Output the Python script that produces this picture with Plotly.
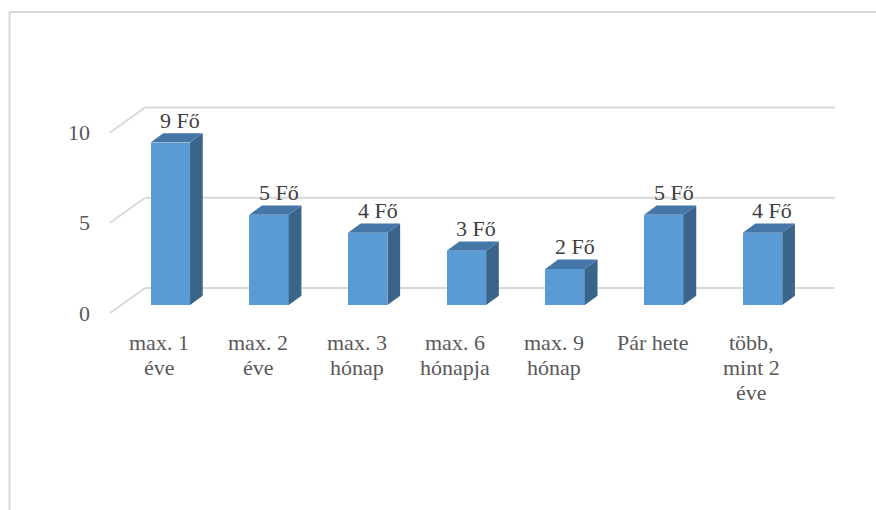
import plotly.graph_objects as go

# Data
categories = [["max. 1", "éve"], ["max. 2", "éve"], ["max. 3", "hónap"], ["max. 6", "hónapja"],
              ["max. 9", "hónap"], ["Pár hete"], ["több,", "mint 2", "éve"]]
values = [9, 5, 4, 3, 2, 5, 4]
unit = "Fő"
y_ticks = [0, 5, 10]

# Pseudo-3D geometry (x in category slots, y in value units)
BAR_W = 0.40          # front face width
DEPTH_X = 0.1287      # bar depth projected on x
DEPTH_Y = 0.515       # bar depth projected on y
WALL_FRONT_X, WALL_FRONT_Y = -0.611, -0.443
WALL_BACK_X, WALL_BACK_Y = -0.256, 0.942
WALL_RIGHT_X = 6.735
PX_PER_UNIT = 18.05   # vertical pixels per value unit

FRONT = "#5B9BD5"
SIDE = "#3A6489"
TOP = "#4476A8"
GRID = "#D9D9D9"
FONT = "Liberation Serif"

idx = list(range(len(values)))
fig = go.Figure()

# front faces
fig.add_trace(go.Bar(x=idx, y=values, width=BAR_W, marker=dict(color=FRONT, line=dict(width=0)),
                     hoverinfo="skip", showlegend=False))

# side and top faces derived from each value
for i, v in zip(idx, values):
    r, l = i + BAR_W / 2, i - BAR_W / 2
    fig.add_trace(go.Scatter(
        x=[r, r + DEPTH_X, r + DEPTH_X, r, r], y=[0, DEPTH_Y, v + DEPTH_Y, v, 0],
        fill="toself", fillcolor=SIDE, mode="lines", line=dict(width=0, color=SIDE),
        hoverinfo="skip", showlegend=False))
    fig.add_trace(go.Scatter(
        x=[l, r, r + DEPTH_X, l + DEPTH_X, l], y=[v, v, v + DEPTH_Y, v + DEPTH_Y, v],
        fill="toself", fillcolor=TOP, mode="lines", line=dict(width=0, color=TOP),
        hoverinfo="skip", showlegend=False))

shapes = []
annotations = []
# back-wall gridlines, floor/side diagonals and value axis labels
for t in y_ticks:
    shapes.append(dict(type="line", xref="x", yref="y", layer="below",
                       x0=WALL_BACK_X, x1=WALL_RIGHT_X, y0=t + WALL_BACK_Y, y1=t + WALL_BACK_Y,
                       line=dict(color=GRID, width=2)))
    shapes.append(dict(type="line", xref="x", yref="y", layer="below",
                       x0=WALL_FRONT_X, x1=WALL_BACK_X, y0=t + WALL_FRONT_Y, y1=t + WALL_BACK_Y,
                       line=dict(color=GRID, width=2)))
    annotations.append(dict(x=-0.79, y=t + WALL_FRONT_Y, xref="x", yref="y", text=str(t),
                            showarrow=False, xanchor="right", yanchor="middle",
                            font=dict(family=FONT, size=22, color="#595959")))

# category labels, one annotation per text line
LINE_STEP = 25.0 / PX_PER_UNIT
for i, lines in zip(idx, categories):
    for k, line in enumerate(lines):
        annotations.append(dict(x=i - 0.111, y=-2.05 - k * LINE_STEP, xref="x", yref="y",
                                text=line, showarrow=False, xanchor="center", yanchor="middle",
                                font=dict(family=FONT, size=22, color="#595959")))

# value labels
for i, v in zip(idx, values):
    annotations.append(dict(x=i + 0.1, y=v + DEPTH_Y - 0.1, xref="x", yref="y", text=f"{v} {unit}",
                            showarrow=False, xanchor="center", yanchor="bottom",
                            font=dict(family=FONT, size=22, color="#404040")))

# chart border
shapes.append(dict(type="line", xref="paper", yref="paper", x0=9.5 / 876, x1=1.0,
                   y0=1 - 12 / 510, y1=1 - 12 / 510, line=dict(color=GRID, width=2)))
shapes.append(dict(type="line", xref="paper", yref="paper", x0=9.5 / 876, x1=9.5 / 876,
                   y0=0, y1=1 - 12 / 510, line=dict(color=GRID, width=2)))

fig.update_layout(
    width=876, height=510, margin=dict(l=0, r=0, t=0, b=0),
    paper_bgcolor="white", plot_bgcolor="white",
    xaxis=dict(range=[-1.7254, 7.150], visible=False, fixedrange=True),
    yaxis=dict(range=[-11.357, 16.898], visible=False, fixedrange=True),
    shapes=shapes, annotations=annotations, bargap=0,
)

fig.write_html("out.html")
